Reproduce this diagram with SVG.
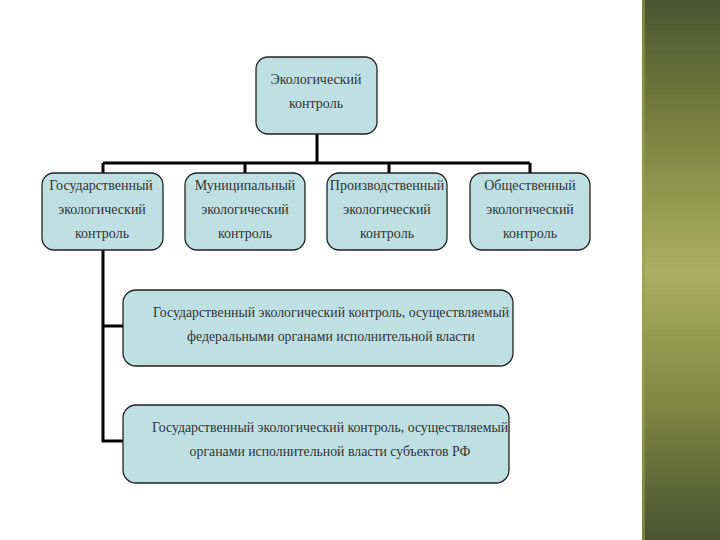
<svg xmlns="http://www.w3.org/2000/svg" width="720" height="540" viewBox="0 0 720 540">
<defs>
<linearGradient id="side" x1="0" y1="0" x2="0" y2="1">
<stop offset="0" stop-color="#4b5530"/>
<stop offset="0.25" stop-color="#7b8440"/>
<stop offset="0.5" stop-color="#a9b063"/>
<stop offset="0.75" stop-color="#7e8742"/>
<stop offset="1" stop-color="#4a5430"/>
</linearGradient>
<style>
.box{fill:#bfe0e3;stroke:#222;stroke-width:1.3}
.t{font-family:"Liberation Serif","Times New Roman",serif;font-size:14px;fill:#333;text-anchor:middle}
.l{font-size:13.8px}
.c{fill:none;stroke:#000;stroke-width:3}
</style>
</defs>
<rect width="720" height="540" fill="#fff"/>
<rect x="642" y="0" width="78" height="540" fill="url(#side)"/>
<rect x="642" y="0" width="3" height="540" fill="#9aa050" opacity="0.6"/>
<g id="connectors">
<path class="c" d="M317 134V163M103 163H530M103 163V173M245 163V173M389 163V173M530 163V173M103 250V441H123M103 326H123"/>
</g>
<g id="n0"><rect class="box" x="256" y="57" width="121" height="77" rx="12"/>
<text class="t" x="316" y="84">Экологический</text><text class="t" x="316" y="108">контроль</text></g>
<g id="n1"><rect class="box" x="42" y="173" width="121" height="77" rx="12"/>
<text class="t" x="101" y="190">Государственный</text><text class="t" x="102" y="214">экологический</text><text class="t" x="102" y="238">контроль</text></g>
<g id="n2"><rect class="box" x="185" y="173" width="120" height="77" rx="12"/>
<text class="t" x="245" y="190">Муниципальный</text><text class="t" x="245" y="214">экологический</text><text class="t" x="245" y="238">контроль</text></g>
<g id="n3"><rect class="box" x="327" y="173" width="120" height="77" rx="12"/>
<text class="t" x="387" y="190">Производственный</text><text class="t" x="387" y="214">экологический</text><text class="t" x="387" y="238">контроль</text></g>
<g id="n4"><rect class="box" x="470" y="173" width="120" height="77" rx="12"/>
<text class="t" x="530" y="190">Общественный</text><text class="t" x="530" y="214">экологический</text><text class="t" x="530" y="238">контроль</text></g>
<g id="n5"><rect class="box" x="123" y="290" width="390" height="76" rx="13"/>
<text class="t l" x="331" y="317">Государственный экологический контроль, осуществляемый</text><text class="t l" x="331" y="341">федеральными органами исполнительной власти</text></g>
<g id="n6"><rect class="box" x="123" y="405" width="386" height="78" rx="13"/>
<text class="t l" x="330" y="432">Государственный экологический контроль, осуществляемый</text><text class="t l" x="330" y="456">органами исполнительной власти субъектов РФ</text></g>
</svg>
